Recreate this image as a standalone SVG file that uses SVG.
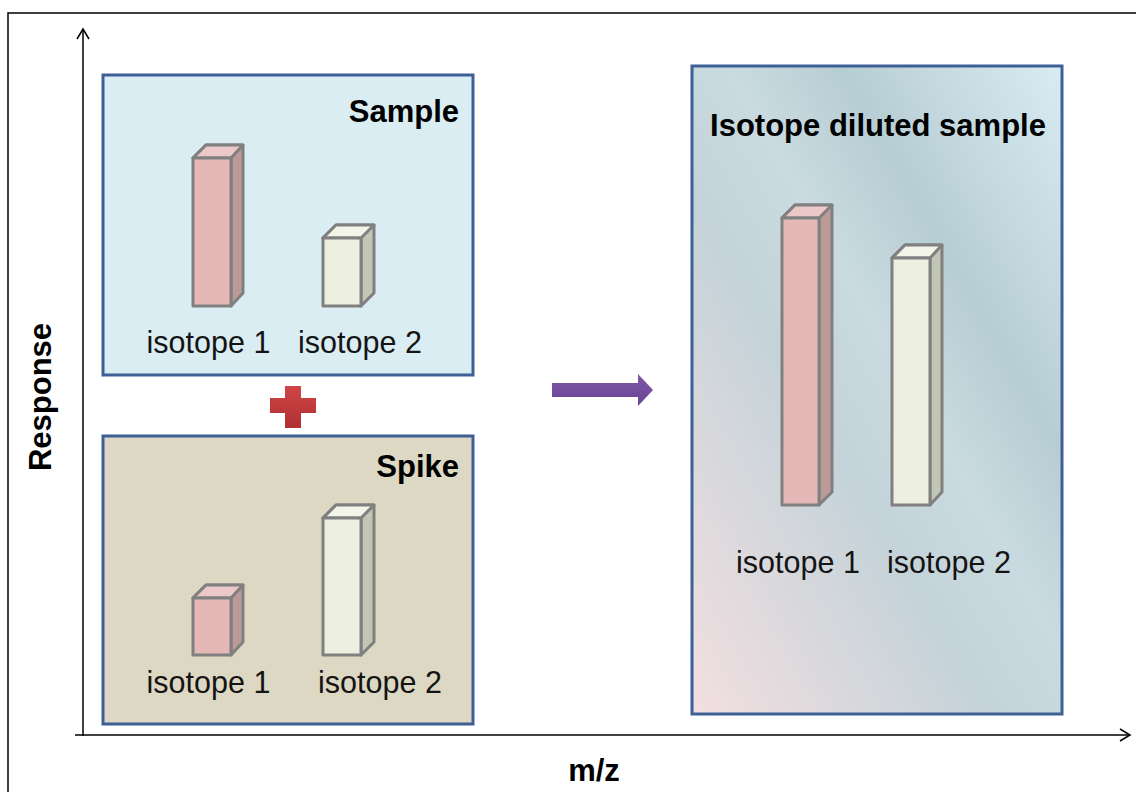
<svg xmlns="http://www.w3.org/2000/svg" width="1136" height="792" viewBox="0 0 1136 792">
<defs>
<style>
.box{stroke:#3d6196;stroke-width:3}
.front{stroke:#808080;stroke-width:3;stroke-linejoin:round}
.lbl{font-family:"Liberation Sans",Arial,sans-serif;font-size:30.5px;fill:#141414}
.ttl{font-family:"Liberation Sans",Arial,sans-serif;font-size:31px;font-weight:bold;fill:#000}
.axis{stroke:#000;stroke-width:1.5;fill:none}
</style>
<linearGradient id="dil" x1="0" y1="1" x2="1" y2="0">
<stop offset="0" stop-color="#f3dfe0"/>
<stop offset="0.4" stop-color="#c4d3d9"/>
<stop offset="0.55" stop-color="#c9dbe0"/>
<stop offset="0.7" stop-color="#b7cdd4"/>
<stop offset="1" stop-color="#d8ecf2"/>
</linearGradient>
<linearGradient id="plusg" x1="0" y1="0" x2="0" y2="1">
<stop offset="0" stop-color="#d04545"/>
<stop offset="1" stop-color="#b03034"/>
</linearGradient>
<linearGradient id="arrg" x1="0" y1="0" x2="0" y2="1">
<stop offset="0" stop-color="#7f58a8"/>
<stop offset="1" stop-color="#6a4494"/>
</linearGradient>
</defs>
<rect x="0" y="0" width="1136" height="792" fill="#fff"/>
<rect x="8" y="13" width="1140" height="800" fill="none" stroke="#000" stroke-width="1.5"/>

<g id="axes">
<line class="axis" x1="83" y1="29" x2="83" y2="736"/>
<polyline class="axis" points="77,39 83,29 89,39"/>
<line class="axis" x1="75" y1="735" x2="1130" y2="735"/>
<polyline class="axis" points="1120,729 1130,735 1120,741"/>
<text class="ttl" x="594" y="781" text-anchor="middle">m/z</text>
<text class="ttl" transform="translate(51,397) rotate(-90)" text-anchor="middle" font-size="32">Response</text>
</g>

<g id="sample">
<rect class="box" x="103" y="75" width="370" height="300" fill="#daedf3"/>
<text class="ttl" x="459" y="122" text-anchor="end">Sample</text>
<g>
<polygon points="193,158 206,145 243,145 243,293 231,306 231,158" fill="#bb9a98" class="front"/>
<polygon points="193,158 206,145 243,145 231,158" fill="#ecc8c8" class="front"/>
<rect x="193" y="158" width="38" height="148" fill="#e5b8b8" class="front"/>
</g>
<g>
<polygon points="323,238 336,225 374,225 374,293 361,306 361,238" fill="#c2c6b4" class="front"/>
<polygon points="323,238 336,225 374,225 361,238" fill="#f2f5e8" class="front"/>
<rect x="323" y="238" width="38" height="68" fill="#edf0e0" class="front"/>
</g>
<text class="lbl" x="208.5" y="353" text-anchor="middle">isotope 1</text>
<text class="lbl" x="360" y="353" text-anchor="middle">isotope 2</text>
</g>

<g id="plus">
<path d="M285,386 H301 V398 H316 V413 H301 V428 H285 V413 H270 V398 H285 Z" fill="url(#plusg)"/>
</g>

<g id="spike">
<rect class="box" x="103" y="436" width="370" height="288" fill="#ddd8c3"/>
<text class="ttl" x="459" y="477" text-anchor="end">Spike</text>
<g>
<polygon points="193,598 206,585 243,585 243,642 231,655 231,598" fill="#bb9a98" class="front"/>
<polygon points="193,598 206,585 243,585 231,598" fill="#ecc8c8" class="front"/>
<rect x="193" y="598" width="38" height="57" fill="#e5b8b8" class="front"/>
</g>
<g>
<polygon points="323,518 336,505 374,505 374,642 361,655 361,518" fill="#c2c6b4" class="front"/>
<polygon points="323,518 336,505 374,505 361,518" fill="#f2f5e8" class="front"/>
<rect x="323" y="518" width="38" height="137" fill="#edf0e0" class="front"/>
</g>
<text class="lbl" x="208.5" y="693" text-anchor="middle">isotope 1</text>
<text class="lbl" x="380" y="693" text-anchor="middle">isotope 2</text>
</g>

<g id="connectors">
<path d="M552,383 H638 V374 L653,390 L638,406 V397 H552 Z" fill="url(#arrg)"/>
</g>

<g id="diluted">
<rect class="box" x="692" y="66" width="370" height="648" fill="url(#dil)"/>
<text class="ttl" x="878" y="136" text-anchor="middle" font-size="32.5">Isotope diluted sample</text>
<g>
<polygon points="782,218 795,205 832,205 832,492 819,505 819,218" fill="#bb9a98" class="front"/>
<polygon points="782,218 795,205 832,205 819,218" fill="#ecc8c8" class="front"/>
<rect x="782" y="218" width="37" height="287" fill="#e5b8b8" class="front"/>
</g>
<g>
<polygon points="892,258 905,245 942,245 942,492 930,505 930,258" fill="#c2c6b4" class="front"/>
<polygon points="892,258 905,245 942,245 930,258" fill="#f2f5e8" class="front"/>
<rect x="892" y="258" width="38" height="247" fill="#edf0e0" class="front"/>
</g>
<text class="lbl" x="798" y="573" text-anchor="middle">isotope 1</text>
<text class="lbl" x="949" y="573" text-anchor="middle">isotope 2</text>
</g>
</svg>
